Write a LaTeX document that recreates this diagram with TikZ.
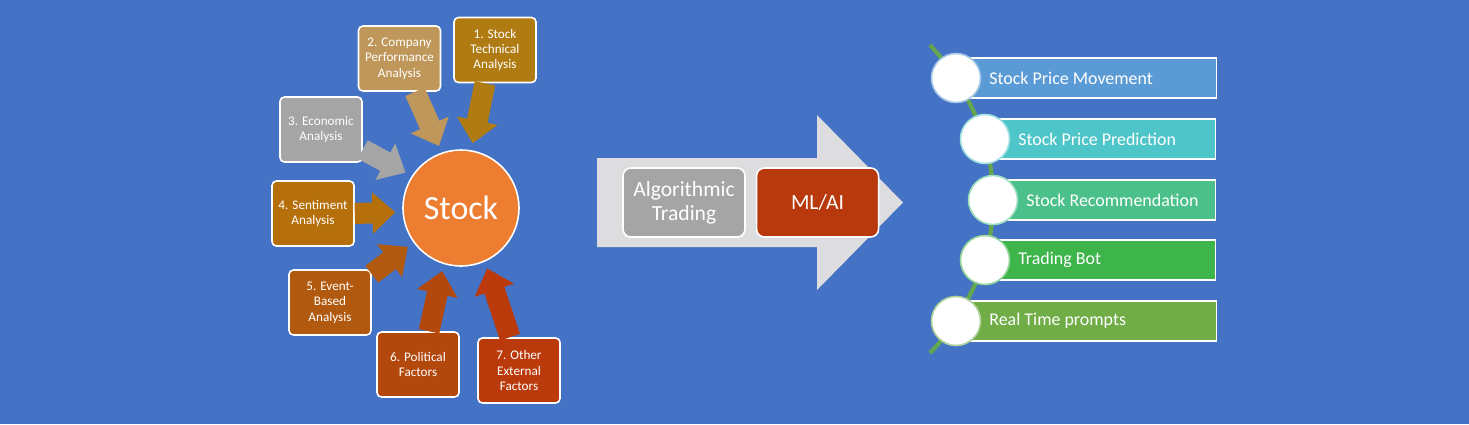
\documentclass[tikz,border=0pt]{standalone}
\usepackage{fontspec}
\setmainfont{Carlito}
\usetikzlibrary{positioning,arrows.meta,calc}
\definecolor{bgblue}{HTML}{4472C4}
\definecolor{fcone}{HTML}{B07B12}
\definecolor{fctwo}{HTML}{BF975A}
\definecolor{fcthree}{HTML}{A5A5A5}
\definecolor{fcfour}{HTML}{B5700C}
\definecolor{fcfive}{HTML}{B15A0F}
\definecolor{fcsix}{HTML}{B2480C}
\definecolor{fcseven}{HTML}{BA3A0C}
\definecolor{stockorange}{HTML}{ED7D31}
\definecolor{pipegray}{HTML}{DDDDDF}
\definecolor{mlred}{HTML}{B8390B}
\definecolor{barone}{HTML}{5B9BD5}
\definecolor{bartwo}{HTML}{4EC5C9}
\definecolor{barthree}{HTML}{4BC08A}
\definecolor{barfour}{HTML}{3DB54A}
\definecolor{barfive}{HTML}{70AD47}
\definecolor{spine}{HTML}{64A550}
\tikzset{
  factorbox/.style={draw=white, line width=0.9pt, rounded corners=2.5pt, fill=#1, minimum width=1.64cm, minimum height=1.3cm, align=center, inner sep=1pt, font=\fontsize{7.5}{8.8}\selectfont},
  feedarrow/.style={draw=#1, line width=0.42cm, -{Triangle[width=0.8cm, length=0.46cm]}, shorten >=0.14cm},
  stocknode/.style={circle, draw=white, line width=0.9pt, fill=stockorange, minimum size=2.32cm, inner sep=0pt, font=\fontsize{19.3}{22}\selectfont},
  methodbox/.style={draw=white, line width=0.9pt, rounded corners=4.5pt, fill=#1, minimum width=2.44cm, minimum height=1.38cm, align=center, inner sep=1pt, font=\fontsize{12.3}{13.5}\selectfont},
  goalbar/.style={draw=white, line width=0.8pt, fill=#1, minimum height=0.8cm, anchor=west},
  goaltext/.style={anchor=west, xshift=0.66cm, inner sep=0pt, text=white, font=\fontsize{10.2}{12}\selectfont},
  goaldot/.style={circle, draw=#1!55!white, line width=0.9pt, fill=white, minimum size=0.98cm, inner sep=0pt}
}
\begin{document}
\begin{tikzpicture}[x=0.02cm, y=-0.02cm, every node/.style={text=white}]
  \fill[bgblue] (0,0) rectangle (1469,424);

  \node[stocknode] (stock) at (461,208) {Stock};
  \node[factorbox=fcone] (f1) at (495,50) {1. Stock\\Technical\\Analysis};
  \node[factorbox=fctwo] (f2) at (399.5,58.5) {2. Company\\Performance\\Analysis};
  \node[factorbox=fcthree] (f3) at (321,129.5) {3. Economic\\Analysis};
  \node[factorbox=fcfour] (f4) at (313,213.5) {4. Sentiment\\Analysis};
  \node[factorbox=fcfive] (f5) at (330,302.5) {5. Event-\\Based\\Analysis};
  \node[factorbox=fcsix] (f6) at (418,364.5) {6. Political\\Factors};
  \node[factorbox=fcseven] (f7) at (519,370.5) {7. Other\\External\\Factors};

  \draw[feedarrow=fcone] ([xshift=-0.2cm]f1.south) -- (stock.80);
  \draw[feedarrow=fctwo] ([xshift=0.31cm]f2.south) -- (stock.109);
  \draw[feedarrow=fcthree] ([yshift=-0.4cm]f3.east) -- (stock.147);
  \draw[feedarrow=fcfour] (f4.east) -- (stock.184);
  \draw[feedarrow=fcfive] ([yshift=-0.1cm]f5.north east) -- (stock.216);
  \draw[feedarrow=fcsix] ([xshift=0.22cm]f6.north) -- (stock.253);
  \draw[feedarrow=fcseven] ([xshift=-0.18cm]f7.north) -- (stock.294);

  \fill[pipegray] (597,158) -- (817,158) -- (817,115) -- (903,202.5) -- (817,290) -- (817,247) -- (597,247) -- cycle;
  \node[methodbox=fcthree] (algo) at (684,202.5) {Algorithmic\\Trading};
  \node[methodbox=mlred, right=0.2cm of algo] (mlai) {ML/AI};

  \coordinate (top) at (930,45);
  \coordinate (p1) at (956,78);
  \coordinate (p2) at (985,139);
  \coordinate (p3) at (993,200);
  \coordinate (p4) at (985,260);
  \coordinate (p5) at (956,321);
  \coordinate (bot) at (930,353);
  \draw[spine, line width=2.4pt] plot[smooth] coordinates {(top) (p1) (p2) (p3) (p4) (p5) (bot)};

  \node[goalbar=barone, minimum width=5.2cm, label={[goaltext]west:Stock Price Movement}] (g1) at (p1) {};
  \node[goalbar=bartwo, minimum width=4.6cm, label={[goaltext]west:Stock Price Prediction}] (g2) at (p2) {};
  \node[goalbar=barthree, minimum width=4.44cm, label={[goaltext]west:Stock Recommendation}] (g3) at (p3) {};
  \node[goalbar=barfour, minimum width=4.6cm, label={[goaltext]west:Trading Bot}] (g4) at (p4) {};
  \node[goalbar=barfive, minimum width=5.2cm, label={[goaltext]west:Real Time prompts}] (g5) at (p5) {};
  \node[goaldot=barone] (d1) at (p1) {};
  \node[goaldot=bartwo] (d2) at (p2) {};
  \node[goaldot=barthree] (d3) at (p3) {};
  \node[goaldot=barfour] (d4) at (p4) {};
  \node[goaldot=barfive] (d5) at (p5) {};
\end{tikzpicture}
\end{document}
